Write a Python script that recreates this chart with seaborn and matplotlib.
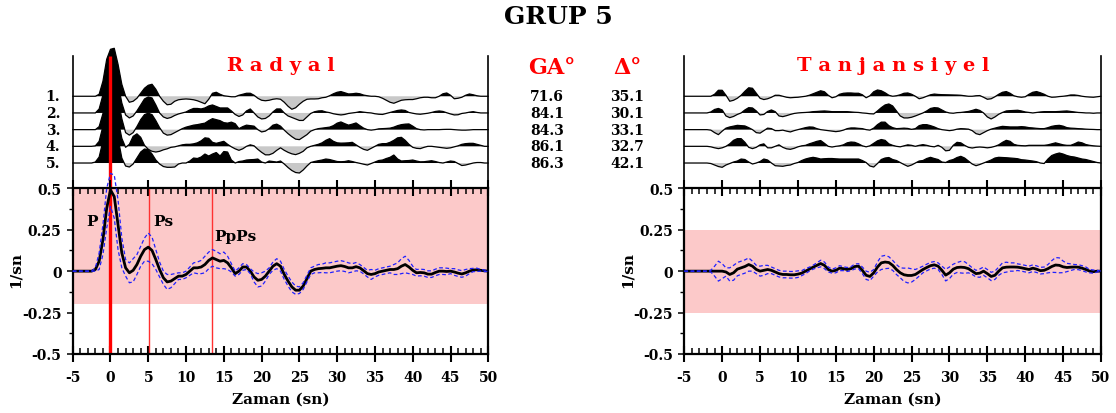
import numpy as np
import pandas as pd
import matplotlib
matplotlib.use("Agg")
import matplotlib.pyplot as plt
import matplotlib.transforms as mtransforms
from matplotlib.ticker import MultipleLocator
import seaborn as sns

# ---------------- data ----------------
t = np.round(np.arange(-5, 50.001, 0.5), 2)

radial_mean = [
    0, 0, 0, 0, 0, 0, 0.01, 0.06, 0.19, 0.38,
    0.49, 0.45, 0.28, 0.11, 0.02, -0.01, 0.005, 0.04, 0.09, 0.13,
    0.145, 0.125, 0.07, 0.01, -0.04, -0.065, -0.06, -0.045, -0.03, -0.03,
    -0.02, 0.0, 0.02, 0.02, 0.025, 0.04, 0.065, 0.08, 0.07, 0.06,
    0.065, 0.05, 0.02, -0.015, 0.0, 0.025, 0.025, 0.0, -0.035, -0.055,
    -0.05, -0.03, 0.0, 0.03, 0.045, 0.03, -0.02, -0.06, -0.095, -0.115,
    -0.115, -0.09, -0.045, 0.0, 0.01, 0.015, 0.017, 0.02, 0.02, 0.025,
    0.03, 0.033, 0.028, 0.02, 0.02, 0.027, 0.02, 0.003, -0.015, -0.02,
    -0.015, -0.005, 0.0, 0.005, 0.01, 0.01, 0.015, 0.03, 0.04, 0.025,
    0.005, -0.01, -0.008, -0.01, -0.018, -0.018, -0.008, 0.0, 0.0, -0.002,
    0.0, -0.005, -0.012, -0.017, -0.01, 0.0, 0.007, 0.008, 0.005, 0.002,
    0.0]
radial_std = [
    0, 0, 0, 0, 0, 0, 0.01, 0.05, 0.09, 0.12,
    0.1, 0.13, 0.15, 0.09, 0.05, 0.06, 0.07, 0.06, 0.06, 0.07,
    0.085, 0.08, 0.06, 0.045, 0.04, 0.045, 0.04, 0.03, 0.02, 0.02,
    0.02, 0.025, 0.03, 0.035, 0.04, 0.05, 0.05, 0.05, 0.05, 0.045,
    0.05, 0.04, 0.025, 0.015, 0.02, 0.02, 0.015, 0.015, 0.03, 0.04,
    0.04, 0.03, 0.02, 0.025, 0.03, 0.03, 0.03, 0.03, 0.03, 0.025,
    0.02, 0.02, 0.02, 0.02, 0.02, 0.025, 0.025, 0.03, 0.03, 0.03,
    0.03, 0.03, 0.03, 0.03, 0.025, 0.025, 0.02, 0.02, 0.02, 0.03,
    0.02, 0.02, 0.02, 0.02, 0.02, 0.03, 0.035, 0.045, 0.05, 0.04,
    0.025, 0.02, 0.02, 0.02, 0.02, 0.02, 0.02, 0.02, 0.02, 0.02,
    0.015, 0.02, 0.02, 0.02, 0.02, 0.015, 0.01, 0.01, 0.005, 0.005,
    0.0]
tang_mean = [
    0, 0, 0, 0, 0, 0, 0, 0, 0, 0,
    0.0, -0.005, -0.02, -0.01, 0.012, 0.02, 0.028, 0.04, 0.03, 0.01,
    0.0, 0.005, 0.01, 0.005, -0.005, -0.015, -0.02, -0.02, -0.022, -0.022,
    -0.018, -0.012, 0.0, 0.012, 0.024, 0.035, 0.046, 0.035, 0.01, 0.0,
    0.005, 0.018, 0.015, 0.01, 0.015, 0.028, 0.03, 0.005, -0.025, -0.032,
    -0.01, 0.025, 0.05, 0.055, 0.052, 0.035, 0.01, -0.01, -0.022, -0.026,
    -0.026, -0.02, -0.005, 0.01, 0.022, 0.033, 0.038, 0.03, 0.005, -0.024,
    -0.01, 0.012, 0.022, 0.024, 0.022, 0.015, 0.0, -0.015, -0.012, 0.0,
    -0.015, -0.032, -0.025, 0.0, 0.02, 0.024, 0.025, 0.025, 0.024, 0.02,
    0.015, 0.01, 0.018, 0.012, 0.003, 0.005, 0.015, 0.028, 0.037, 0.035,
    0.026, 0.022, 0.024, 0.025, 0.024, 0.018, 0.01, 0.0, -0.003, 0.0,
    0.0]
tang_std = [
    0, 0, 0, 0, 0, 0, 0, 0.005, 0.03, 0.06,
    0.045, 0.025, 0.04, 0.045, 0.04, 0.04, 0.04, 0.04, 0.03, 0.025,
    0.03, 0.03, 0.025, 0.02, 0.02, 0.02, 0.02, 0.02, 0.02, 0.02,
    0.02, 0.015, 0.015, 0.012, 0.012, 0.015, 0.02, 0.02, 0.015, 0.012,
    0.015, 0.015, 0.012, 0.012, 0.012, 0.015, 0.015, 0.02, 0.025, 0.025,
    0.02, 0.03, 0.04, 0.04, 0.035, 0.03, 0.03, 0.03, 0.04, 0.045,
    0.04, 0.03, 0.025, 0.02, 0.02, 0.02, 0.02, 0.02, 0.025, 0.035,
    0.035, 0.03, 0.03, 0.035, 0.035, 0.025, 0.02, 0.02, 0.025, 0.025,
    0.025, 0.025, 0.025, 0.025, 0.03, 0.03, 0.025, 0.025, 0.02, 0.02,
    0.02, 0.02, 0.02, 0.02, 0.02, 0.02, 0.025, 0.035, 0.045, 0.045,
    0.035, 0.025, 0.02, 0.015, 0.015, 0.015, 0.015, 0.01, 0.01, 0.005,
    0.0]

radial_r1 = [
    0, 0, 0, 0, 0, 0, 0.0, 0.02, 0.15, 0.37,
    0.47, 0.48, 0.32, 0.12, 0.0, -0.06, -0.05, -0.02, 0.03, 0.08,
    0.11, 0.12, 0.07, 0.0, -0.05, -0.085, -0.08, -0.05, -0.035, -0.03,
    -0.027, -0.03, -0.035, -0.045, -0.06, -0.075, -0.03, 0.03, 0.04, 0.02,
    0.005, 0.0, -0.005, -0.005, 0.01, 0.02, 0.03, 0.03, 0.01, -0.02,
    -0.04, -0.045, -0.04, -0.03, -0.025, -0.03, -0.06, -0.1, -0.13, -0.115,
    -0.08, -0.05, -0.03, -0.027, -0.027, -0.025, -0.015, -0.01, 0.005, 0.025,
    0.04, 0.047, 0.035, 0.023, 0.025, 0.03, 0.025, 0.012, 0.005, 0.0,
    0.0, -0.005, -0.02, -0.04, -0.06, -0.07, -0.055, -0.04, -0.035, -0.033,
    -0.033, -0.025, -0.015, -0.01, -0.01, -0.015, -0.015, 0.0, 0.025, 0.033,
    0.01, -0.025, -0.02, -0.01, 0.01, 0.023, 0.015, 0.005, 0.0, 0.0,
    0.0]
radial_r2 = [
    0, 0, 0, 0, 0, 0, 0.0, 0.04, 0.18, 0.38,
    0.48, 0.47, 0.3, 0.1, -0.02, -0.05, -0.03, 0.02, 0.08, 0.14,
    0.16, 0.15, 0.08, 0.0, -0.04, -0.055, -0.045, -0.025, -0.01, 0.0,
    0.01, 0.03, 0.045, 0.045, 0.04, 0.05, 0.07, 0.08, 0.065, 0.05,
    0.05, 0.05, 0.02, -0.015, -0.035, -0.02, 0.02, 0.04, 0.0, -0.04,
    -0.06, -0.055, -0.03, 0.01, 0.04, 0.04, 0.0, -0.03, -0.045, -0.06,
    -0.075, -0.075, -0.04, -0.005, 0.012, 0.02, 0.022, 0.01, 0.003, -0.008,
    -0.015, -0.02, -0.015, -0.005, 0.0, 0.005, 0.013, 0.008, 0.003, 0.0,
    -0.008, -0.013, -0.015, -0.005, 0.005, 0.015, 0.025, 0.03, 0.025, 0.005,
    -0.003, -0.01, -0.013, -0.008, -0.003, 0.005, 0.015, 0.02, 0.015, 0.002,
    -0.01, -0.02, -0.018, -0.005, 0.0, 0.008, 0.013, 0.005, 0.0, 0.0,
    0.0]
radial_r3 = [
    0, 0, 0, 0, 0, 0, 0.0, 0.03, 0.16, 0.36,
    0.47, 0.47, 0.31, 0.11, -0.03, -0.055, -0.03, 0.03, 0.1, 0.15,
    0.165, 0.15, 0.09, 0.02, -0.035, -0.055, -0.05, -0.03, -0.01, 0.01,
    0.025, 0.035, 0.045, 0.05, 0.058, 0.065, 0.09, 0.11, 0.1, 0.09,
    0.07, 0.065, 0.075, 0.06, 0.01, 0.03, 0.045, 0.04, 0.035, 0.0,
    -0.023, -0.015, 0.01, 0.045, 0.055, 0.035, -0.005, -0.04, -0.07, -0.095,
    -0.1, -0.075, -0.05, -0.015, 0.0, 0.01, 0.015, 0.02, 0.025, 0.04,
    0.065, 0.077, 0.06, 0.045, 0.055, 0.067, 0.04, 0.015, 0.0, -0.005,
    0.0, 0.008, 0.01, 0.012, 0.015, 0.025, 0.04, 0.05, 0.055, 0.057,
    0.035, 0.01, 0.0, -0.003, 0.0, 0.0, 0.0, 0.0, 0.002, 0.003,
    0.003, 0.0, -0.003, -0.005, -0.005, -0.003, 0.0, 0.0, 0.0, 0.0,
    0.0]
radial_r4 = [
    0, 0, 0, 0, 0, 0, 0.005, 0.05, 0.2, 0.4,
    0.48, 0.44, 0.27, 0.08, -0.01, 0.02, 0.1, 0.125, 0.09, 0.01,
    -0.03, -0.05, -0.057, -0.05, -0.035, -0.025, -0.01, -0.005, 0.005, 0.015,
    0.02, 0.02, 0.025, 0.035, 0.055, 0.085, 0.08, 0.04, 0.03, 0.04,
    0.05, 0.02, -0.005, -0.025, -0.04, -0.025, 0.0, 0.015, 0.005, -0.03,
    -0.06, -0.085, -0.085, -0.07, -0.04, -0.015, -0.04, -0.06, -0.075, -0.083,
    -0.07, -0.05, -0.015, 0.0, 0.01, 0.02, 0.035, 0.06, 0.077, 0.05,
    0.035, 0.032, 0.033, 0.035, 0.04, 0.015, -0.01, -0.03, -0.04, -0.02,
    0.0, 0.02, 0.027, 0.027, 0.04, 0.06, 0.085, 0.09, 0.06, 0.02,
    -0.01, -0.02, -0.023, -0.01, 0.0, 0.0, -0.005, -0.01, -0.015, -0.02,
    -0.015, -0.005, 0.005, 0.02, 0.027, 0.03, 0.03, 0.02, 0.01, 0.0,
    0.0]
radial_r5 = [
    0, 0, 0, 0, 0, 0.0, 0.01, 0.06, 0.22, 0.41,
    0.48, 0.43, 0.25, 0.05, -0.03, -0.04, -0.01, 0.05, 0.11, 0.14,
    0.135, 0.09, 0.03, -0.01, -0.035, -0.043, -0.043, -0.04, -0.01, 0.0,
    0.0, 0.02, 0.05, 0.045, 0.06, 0.09, 0.07, 0.09, 0.105, 0.07,
    0.115, 0.11, 0.03, 0.0, 0.015, 0.02, 0.03, 0.033, 0.035, 0.04,
    0.01, 0.0, 0.02, 0.015, 0.01, 0.02, -0.01, -0.045, -0.075, -0.095,
    -0.1, -0.07, -0.03, 0.005, 0.015, 0.023, 0.03, 0.04, 0.035, 0.025,
    0.015, 0.013, 0.015, 0.023, 0.015, 0.005, -0.003, -0.012, -0.02, -0.005,
    0.01, 0.025, 0.03, 0.045, 0.057, 0.08, 0.04, 0.02, 0.023, 0.025,
    0.03, 0.02, 0.012, 0.013, 0.018, 0.023, 0.015, 0.005, 0.0, 0.01,
    0.02, 0.015, -0.005, -0.025, -0.02, -0.01, 0.0, 0.005, 0.005, 0.0,
    0.0]

tang_r1 = [
    0, 0, 0, 0, 0, 0, 0, 0, 0.02, 0.06,
    0.06, 0.01, -0.05, -0.04, -0.02, 0.01, 0.05, 0.085, 0.08, 0.03,
    -0.02, -0.033, -0.025, -0.01, 0.01, 0.01, 0.0, -0.01, -0.015, -0.012,
    -0.01, -0.005, 0.0, 0.01, 0.025, 0.04, 0.055, 0.045, 0.01, -0.015,
    -0.005, 0.02, 0.03, 0.033, 0.033, 0.03, 0.03, 0.015, -0.015, 0.005,
    0.045, 0.063, 0.055, 0.035, 0.01, 0.0, 0.005, 0.015, 0.03, 0.033,
    0.02, 0.0, -0.025, -0.015, 0.0, 0.015, 0.022, 0.018, 0.016, 0.015,
    0.014, 0.013, 0.012, 0.01, 0.005, 0.0, 0.0, 0.005, 0.007, -0.01,
    -0.03, -0.025, -0.005, 0.02, 0.04, 0.047, 0.03, 0.005, -0.005, -0.01,
    -0.005, 0.02, 0.04, 0.047, 0.035, 0.02, 0.0, -0.01, -0.008, -0.003,
    0.0, 0.005, 0.013, 0.013, 0.008, 0.0, -0.005, -0.008, -0.01, -0.005,
    0.0]
tang_r2 = [
    0, 0, 0, 0, 0, 0, 0, 0.01, 0.035, 0.045,
    0.03, -0.03, -0.047, -0.035, -0.015, 0.0, 0.03, 0.053, 0.05, 0.02,
    -0.02, -0.015, 0.015, 0.03, 0.013, -0.03, -0.037, -0.027, -0.015, -0.005,
    0.0, 0.003, 0.005, 0.008, 0.013, 0.015, 0.018, 0.02, 0.017, 0.013,
    0.013, 0.013, 0.013, 0.013, 0.01, 0.007, 0.005, 0.0, -0.003, -0.008,
    -0.01, 0.02, 0.053, 0.08, 0.09, 0.07, 0.02, -0.03, -0.05, -0.05,
    -0.043, -0.03, -0.015, 0.0, 0.02, 0.045, 0.053, 0.05, 0.03, 0.01,
    0.0, -0.003, 0.003, 0.005, 0.01, 0.015, 0.025, 0.037, 0.025, 0.0,
    -0.04, -0.06, -0.04, -0.013, 0.005, 0.02, 0.023, 0.025, 0.027, 0.02,
    0.01, 0.005, 0.0, 0.005, 0.01, 0.013, 0.013, 0.013, 0.013, 0.015,
    0.018, 0.02, 0.015, 0.01, 0.005, 0.003, 0.0, 0.0, -0.003, 0.0,
    0.0]
tang_r3 = [
    0, 0, 0, 0, 0, 0, 0, -0.005, -0.03, -0.05,
    -0.015, 0.015, 0.027, 0.035, 0.043, 0.04, 0.037, 0.02, 0.0, -0.03,
    -0.035, -0.01, 0.015, 0.01, -0.01, -0.01, -0.005, -0.015, -0.023, -0.01,
    0.0, 0.01, 0.02, 0.027, 0.025, 0.01, 0.0, -0.005, -0.01, -0.015,
    -0.02, -0.015, -0.005, 0.01, 0.017, 0.017, 0.013, 0.01, 0.0, -0.005,
    0.015, 0.05, 0.075, 0.075, 0.04, 0.02, 0.01, 0.012, 0.015, 0.012,
    0.003, 0.01, 0.04, 0.05, 0.05, 0.04, 0.027, 0.01, 0.0, -0.005,
    -0.01, -0.005, 0.005, 0.01, 0.008, 0.005, -0.01, -0.04, -0.05, -0.03,
    -0.01, 0.005, 0.015, 0.025, 0.033, 0.03, 0.027, 0.027, 0.027, 0.03,
    0.027, 0.02, 0.017, 0.013, 0.01, 0.01, 0.02, 0.033, 0.04, 0.043,
    0.035, 0.02, 0.015, 0.013, 0.01, 0.008, 0.005, 0.003, 0.002, 0.0,
    0.0]
tang_r4 = [
    0, 0, 0, 0, 0, 0, 0, -0.005, -0.015, -0.023,
    -0.015, 0.0, 0.025, 0.06, 0.077, 0.077, 0.04, -0.01, -0.023, -0.01,
    0.015, 0.025, -0.015, -0.015, 0.0, 0.015, -0.01, -0.025, -0.03, -0.02,
    -0.005, 0.005, 0.01, 0.025, 0.037, 0.05, 0.058, 0.03, 0.0, -0.007,
    0.0, 0.005, 0.015, 0.035, 0.043, 0.04, 0.025, 0.005, -0.005, 0.005,
    0.03, 0.055, 0.068, 0.06, 0.025, 0.01, 0.0, -0.005, 0.005, 0.015,
    0.01, 0.0, 0.01, 0.017, 0.01, 0.0, -0.005, 0.01, -0.01, -0.045,
    -0.04, 0.01, 0.04, 0.035, 0.01, -0.01, -0.017, -0.01, -0.007, -0.01,
    -0.015, -0.01, 0.0, 0.015, 0.04, 0.06, 0.05, 0.02, 0.01, 0.007,
    0.005, 0.01, 0.01, 0.01, 0.01, 0.01, 0.015, 0.025, 0.035, 0.025,
    0.015, 0.01, 0.01, 0.025, 0.043, 0.035, 0.018, 0.01, 0.005, 0.002,
    0.0]
tang_r5 = [
    0, 0, 0, 0, 0, 0, 0, -0.005, -0.02, -0.035,
    -0.043, -0.02, -0.005, 0.01, 0.02, 0.04, 0.035, 0.01, -0.01, 0.0,
    0.015, 0.04, 0.03, 0.0, -0.027, -0.03, -0.033, -0.025, -0.02, -0.005,
    0.005, 0.025, 0.04, 0.05, 0.057, 0.05, 0.04, 0.043, 0.045, 0.045,
    0.042, 0.04, 0.04, 0.04, 0.04, 0.04, 0.04, 0.025, 0.005, -0.03,
    -0.04, -0.005, 0.035, 0.05, 0.055, 0.035, 0.025, 0.005, -0.015, -0.033,
    -0.02, 0.0, 0.02, 0.025, 0.045, 0.057, 0.045, 0.035, 0.01, 0.005,
    0.025, 0.035, 0.055, 0.067, 0.05, 0.02, -0.01, -0.027, -0.015, 0.0,
    0.015, 0.03, 0.05, 0.057, 0.055, 0.053, 0.05, 0.047, 0.043, 0.033,
    0.03, 0.025, 0.02, 0.013, 0.0, -0.005, 0.04, 0.075, 0.09, 0.1,
    0.09, 0.075, 0.065, 0.06, 0.05, 0.04, 0.035, 0.025, 0.015, 0.005,
    0.0]

station_labels = ["1.", "2.", "3.", "4.", "5."]
ga_values = ["71.6", "84.1", "84.3", "86.1", "86.3"]
delta_values = ["35.1", "30.1", "33.1", "32.7", "42.1"]
phase_times = [0.0, 5.1, 13.5]
x_ticks = [-5, 0, 5, 10, 15, 20, 25, 30, 35, 40, 45, 50]
y_ticks = [-0.5, -0.25, 0, 0.25, 0.5]
y_ticklabels = ["-0.5", "-0.25", "0", "0.25", "0.5"]

# ---------------- style ----------------
sns.set_theme(style="white")
plt.rcParams['font.family'] = ['DejaVu Serif']
plt.rcParams['font.weight'] = 'bold'
plt.rcParams['axes.labelweight'] = 'bold'
plt.rcParams['text.color'] = 'black'
plt.rcParams['axes.labelcolor'] = 'black'
plt.rcParams['xtick.color'] = 'black'
plt.rcParams['ytick.color'] = 'black'

W, H = 1116, 414
fig = plt.figure(figsize=(W / 100, H / 100), dpi=100)
fig.patch.set_facecolor('white')


def ax_px(x0, y0, x1, y1):
    return fig.add_axes([x0 / W, 1 - y1 / H, (x1 - x0) / W, (y1 - y0) / H])


PINK = '#fcc9c9'
GRAY = '#c8c8c8'
BLUE = '#2020ff'

axLt = ax_px(72.7, 40, 488.3, 189.3)
axRt = ax_px(684.3, 40, 1101, 189.3)
axL = ax_px(72.7, 189.3, 488.3, 355)
axR = ax_px(684.3, 189.3, 1101, 355)

SPACING = 0.167
YTOP = 0.573
YBOT = -4 * SPACING - 0.253
SPINE_TOP = 0.403


def trace_panel(ax, traces):
    ax.set_facecolor('none')
    for i, tr in enumerate(traces):
        base = -i * SPACING
        y = base + np.asarray(tr, dtype=float)
        ax.fill_between(t, base, y, where=y >= base, interpolate=True,
                        color='black', lw=0, zorder=2)
        ax.fill_between(t, base, y, where=y <= base, interpolate=True,
                        color=GRAY, lw=0, zorder=2)
        sns.lineplot(x=t, y=y, ax=ax, color='black', lw=0.9, zorder=3,
                     clip_on=False)
    ax.set_xlim(-5, 50)
    ax.set_ylim(YBOT, YTOP)
    ax.set_xticks([])
    ax.set_yticks([])
    ax.set_xlabel('')
    ax.set_ylabel('')
    for s in ['top', 'bottom']:
        ax.spines[s].set_visible(False)
    for s in ['left', 'right']:
        ax.spines[s].set_visible(True)
        ax.spines[s].set_color('black')
        ax.spines[s].set_linewidth(1.2)
        ax.spines[s].set_bounds(YBOT, SPINE_TOP)


def rf_panel(ax, mean, std, band):
    mean = np.asarray(mean, dtype=float)
    std = np.asarray(std, dtype=float)
    df = pd.DataFrame({'t': t, 'mean': mean, 'upper': mean + std,
                       'lower': mean - std})
    ax.axhspan(band[0], band[1], color=PINK, lw=0, zorder=0)
    sns.lineplot(data=df, x='t', y='mean', ax=ax, color='black', lw=2.0,
                 zorder=3)
    for col in ['upper', 'lower']:
        sns.lineplot(data=df, x='t', y=col, ax=ax, color=BLUE, lw=0.9,
                     linestyle=(0, (3, 2)), zorder=4, clip_on=False)
    ax.set_xlim(-5, 50)
    ax.set_ylim(-0.5, 0.5)
    ax.set_xticks(x_ticks)
    ax.set_xticklabels([str(v) for v in x_ticks])
    ax.xaxis.set_minor_locator(MultipleLocator(1))
    ax.set_yticks(y_ticks)
    ax.set_yticklabels(y_ticklabels)
    ax.yaxis.set_minor_locator(MultipleLocator(0.125))
    ax.tick_params(axis='x', which='major', direction='inout', length=11,
                   width=1.5, top=True, bottom=True, labelsize=10, pad=6,
                   color='black', labelcolor='black')
    ax.tick_params(axis='x', which='minor', direction='in', length=4,
                   width=1.1, top=True, bottom=True, color='black')
    ax.tick_params(axis='y', which='major', direction='out', length=4,
                   width=1.1, left=True, right=False, labelsize=10, pad=4,
                   color='black', labelcolor='black')
    ax.tick_params(axis='y', which='minor', direction='out', length=3,
                   width=1.0, left=True, right=False, color='black')
    for s in ax.spines.values():
        s.set_visible(True)
        s.set_color('black')
        s.set_linewidth(1.6)
    ax.set_xlabel('Zaman (sn)', fontsize=11, fontweight='bold', color='black')
    ax.xaxis.set_label_coords(0.5, (355 - 400) / 165.7)
    ax.xaxis.label.set_va('center')
    ax.set_ylabel('1/sn', fontsize=11, fontweight='bold', color='black')
    ax.yaxis.set_label_coords((16 - 72.7) / 415.6, (355 - 270) / 165.7)
    ax.yaxis.label.set_va('center')
    ax.yaxis.label.set_ha('center')


rf_panel(axL, radial_mean, radial_std, (-0.2, 0.5))
rf_panel(axR, tang_mean, tang_std, (-0.25, 0.25))

trace_panel(axLt, [radial_r1, radial_r2, radial_r3, radial_r4, radial_r5])
trace_panel(axRt, [tang_r1, tang_r2, tang_r3, tang_r4, tang_r5])

# phase marker lines
axL.axvline(phase_times[0], color='red', lw=2.4, zorder=2.5)
axL.axvline(phase_times[1], color='#ff3030', lw=1.0, zorder=2.5)
axL.axvline(phase_times[2], color='#ff3030', lw=1.0, zorder=2.5)
axLt.plot([phase_times[0], phase_times[0]], [YBOT, SPINE_TOP], color='red',
          lw=2.4, zorder=5, solid_capstyle='butt')

# phase labels
axL.text(-2.4, 0.30, 'P', fontsize=11, fontweight='bold', ha='center',
         va='center', zorder=6, color='black')
axL.text(7.0, 0.30, 'Ps', fontsize=11, fontweight='bold', ha='center',
         va='center', zorder=6, color='black')
axL.text(16.6, 0.21, 'PpPs', fontsize=11, fontweight='bold', ha='center',
         va='center', zorder=6, color='black')

# station numbers and parameters
trL = mtransforms.blended_transform_factory(axLt.transAxes, axLt.transData)
trF = mtransforms.blended_transform_factory(fig.transFigure, axLt.transData)
for i in range(5):
    base = -i * SPACING
    axLt.text(-12.5 / 415.6, base, station_labels[i], transform=trL,
              ha='right', va='center', fontsize=10, fontweight='bold',
              color='black')
    axLt.text(547 / W, base, ga_values[i], transform=trF, ha='center',
              va='center', fontsize=10, fontweight='bold', color='black')
    axLt.text(627 / W, base, delta_values[i], transform=trF, ha='center',
              va='center', fontsize=10, fontweight='bold', color='black')

fig.text(552 / W, 1 - 68 / H, 'GA°', color='red', fontsize=16,
         fontweight='bold', ha='center', va='center')
fig.text(628 / W, 1 - 68 / H, 'Δ°', color='red', fontsize=16,
         fontweight='bold', ha='center', va='center')
fig.text(281 / W, 1 - 66 / H, 'R a d y a l', color='red', fontsize=14,
         fontweight='bold', ha='center', va='center')
fig.text(893 / W, 1 - 66 / H, 'T a n j a n s i y e l', color='red',
         fontsize=14, fontweight='bold', ha='center', va='center')
fig.text(558 / W, 1 - 17 / H, 'GRUP 5', fontsize=18, fontweight='bold',
         ha='center', va='center', color='black')

fig.savefig('out.png', dpi=100, facecolor='white')
